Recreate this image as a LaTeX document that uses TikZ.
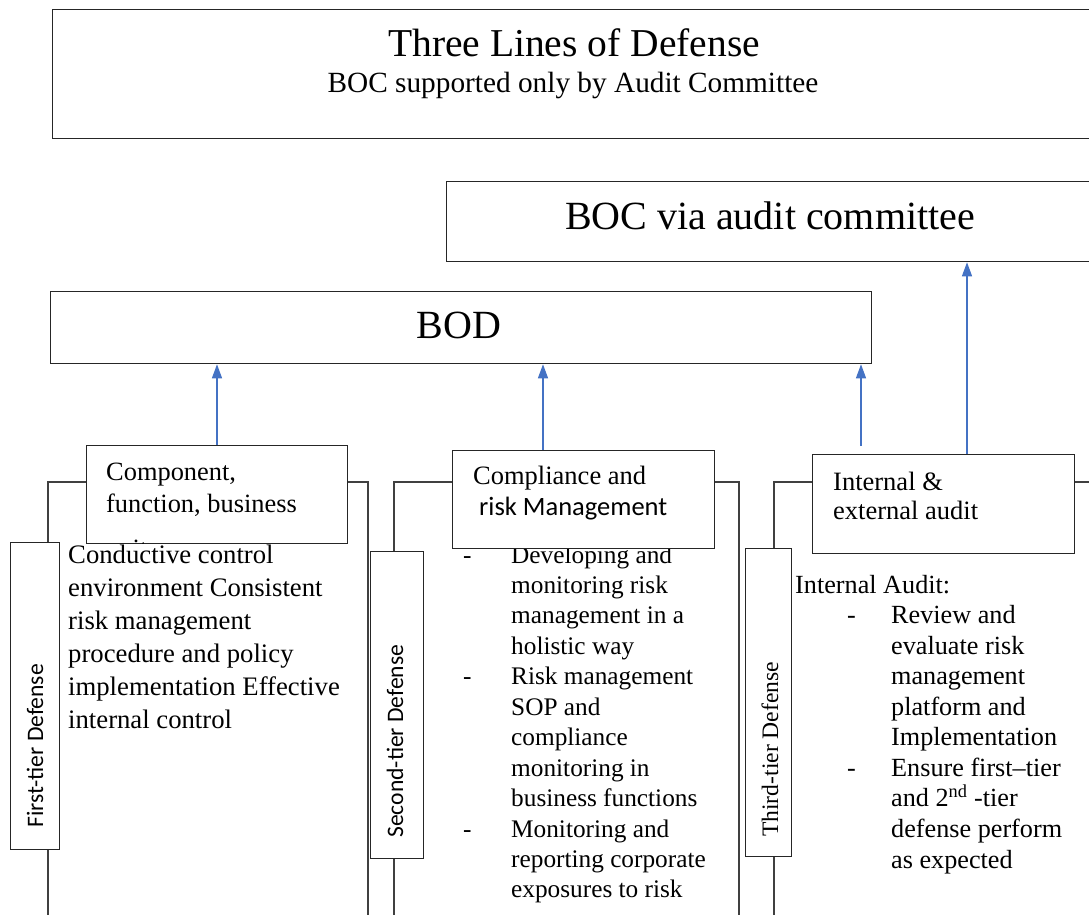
\documentclass[tikz,border=0pt]{standalone}
\usepackage{fontspec}
\setmainfont{Liberation Serif}
\newfontfamily\calib{Carlito}
\usetikzlibrary{arrows.meta,calc}
\definecolor{arrowblue}{HTML}{4472C4}
\newcommand{\bitem}[2]{\hbox{\makebox[#1][l]{-}#2}}
\newcommand{\citem}[2]{\hbox{\hspace*{#1}#2}}
\begin{document}
\begin{tikzpicture}[x=1pt,y=-1pt,
  box/.style={draw=black!85, line width=1.3pt, fill=white, inner sep=0pt, anchor=north west},
  colframe/.style={draw=black!75, line width=1.3pt},
  arr/.style={draw=arrowblue, line width=1.3pt, -{Triangle[length=14pt,width=10pt]}},
  txt/.style={inner sep=0pt, anchor=base west},
  ctxt/.style={inner sep=0pt, anchor=base},
]
\useasboundingbox (0,0) rectangle (1089,915);

% column frames (open at the bottom)
\draw[colframe] (48,915) -- (48,482) -- (368,482) -- (368,915);
\draw[colframe] (394,915) -- (394,482) -- (739,482) -- (739,915);
\draw[colframe] (774,915) -- (774,482) -- (1110,482) -- (1110,915);

% column texts
\node[txt] (c1text) at (68,563) {\vtop{\fontsize{26.7}{33}\selectfont
  \hbox{Conductive control}
  \hbox{environment Consistent}
  \hbox{risk management}
  \hbox{procedure and policy}
  \hbox{implementation Effective}
  \hbox{internal control}}};

\node[txt] (c2text) at (463,563) {\vtop{\fontsize{25.3}{30.45}\selectfont
  \bitem{48pt}{Developing and}
  \citem{48pt}{monitoring risk}
  \citem{48pt}{management in a}
  \citem{48pt}{holistic way}
  \bitem{48pt}{Risk management}
  \citem{48pt}{SOP and}
  \citem{48pt}{compliance}
  \citem{48pt}{monitoring in}
  \citem{48pt}{business functions}
  \bitem{48pt}{Monitoring and}
  \citem{48pt}{reporting corporate}
  \citem{48pt}{exposures to risk}}};

\node[txt] (c3text) at (795,593) {\vtop{\fontsize{26.2}{30.56}\selectfont
  \hbox{Internal Audit:}
  \hbox{\hspace*{52pt}\makebox[44pt][l]{-}Review and}
  \citem{96pt}{evaluate risk}
  \citem{96pt}{management}
  \citem{96pt}{platform and}
  \citem{96pt}{Implementation}
  \hbox{\hspace*{52pt}\makebox[44pt][l]{-}Ensure first--tier}
  \citem{96pt}{and 2\textsuperscript{nd} -tier}
  \citem{96pt}{defense perform}
  \citem{96pt}{as expected}}};

% boxes
\node[box, minimum width=1043pt, minimum height=129pt] (titlebox) at (52,9) {};
\node[box, minimum width=660pt, minimum height=80pt] (boc) at (446,181) {};
\node[box, minimum width=821pt, minimum height=72pt] (bod) at (50,291) {};
\node[box, minimum width=261pt, minimum height=98pt] (comp) at (86,445) {};
\node[box, minimum width=262pt, minimum height=98pt] (compl) at (452,450) {};
\node[box, minimum width=262pt, minimum height=99pt] (audit) at (812,454) {};
\node[box, minimum width=49pt, minimum height=307pt] (tier1) at (10,542) {};
\node[box, minimum width=53pt, minimum height=307pt] (tier2) at (370,551) {};
\node[box, minimum width=46pt, minimum height=308pt] (tier3) at (745,548) {};

% box texts
\node[ctxt, font=\fontsize{39.5}{47}\selectfont] (title) at (574,57) {Three Lines of Defense};
\node[ctxt, font=\fontsize{29.3}{35}\selectfont] (subtitle) at (573,93) {BOC supported only by Audit Committee};
\node[ctxt, font=\fontsize{40}{48}\selectfont] (boctext) at (770,229) {BOC via audit committee};
\node[ctxt, font=\fontsize{40}{48}\selectfont] (bodtext) at (459,338) {BOD};

\node[txt, font=\fontsize{26.4}{32}\selectfont] (comptext1) at (106,480) {Component,};
\node[txt, font=\fontsize{26.4}{32}\selectfont] (comptext2) at (106,512) {function, business};
\begin{scope}
  \clip (comp.north west) rectangle ([yshift=0.6pt]comp.south east);
  \node[txt, font=\fontsize{26.4}{32}\selectfont] (comptext3) at (106,557) {unit};
\end{scope}

\node[txt, font=\fontsize{26.5}{31}\selectfont] (compltext1) at (473,484) {Compliance and};
\node[txt, font=\calib\fontsize{26.5}{31}\selectfont] (compltext2) at (479,515) {risk Management};

\node[txt, font=\fontsize{26.5}{29}\selectfont] (audittext1) at (833,490) {Internal \&};
\node[txt, font=\fontsize{26.5}{29}\selectfont] (audittext2) at (833,519) {external audit};

% rotated tier labels
\node[txt, rotate=90, font=\calib\fontsize{23.6}{28}\selectfont] (l1) at (43,828) {First-tier Defense};
\node[txt, rotate=90, font=\calib\fontsize{23.6}{28}\selectfont] (l2) at (403,838) {Second-tier Defense};
\node[txt, rotate=90, font=\fontsize{23.6}{28}\selectfont] (l3) at (778,837) {Third-tier Defense};

% arrows
\coordinate (a1) at (217,0);
\coordinate (a2) at (543,0);
\coordinate (a3) at (861,0);
\coordinate (a4) at (967,0);
\draw[arr] (a1 |- comp.north) -- (a1 |- bod.south);
\draw[arr] (a2 |- compl.north) -- (a2 |- bod.south);
\draw[arr] ($(a3 |- audit.north)+(0,-8)$) -- (a3 |- bod.south);
\draw[arr] (a4 |- audit.north) -- (a4 |- boc.south);
\end{tikzpicture}
\end{document}
